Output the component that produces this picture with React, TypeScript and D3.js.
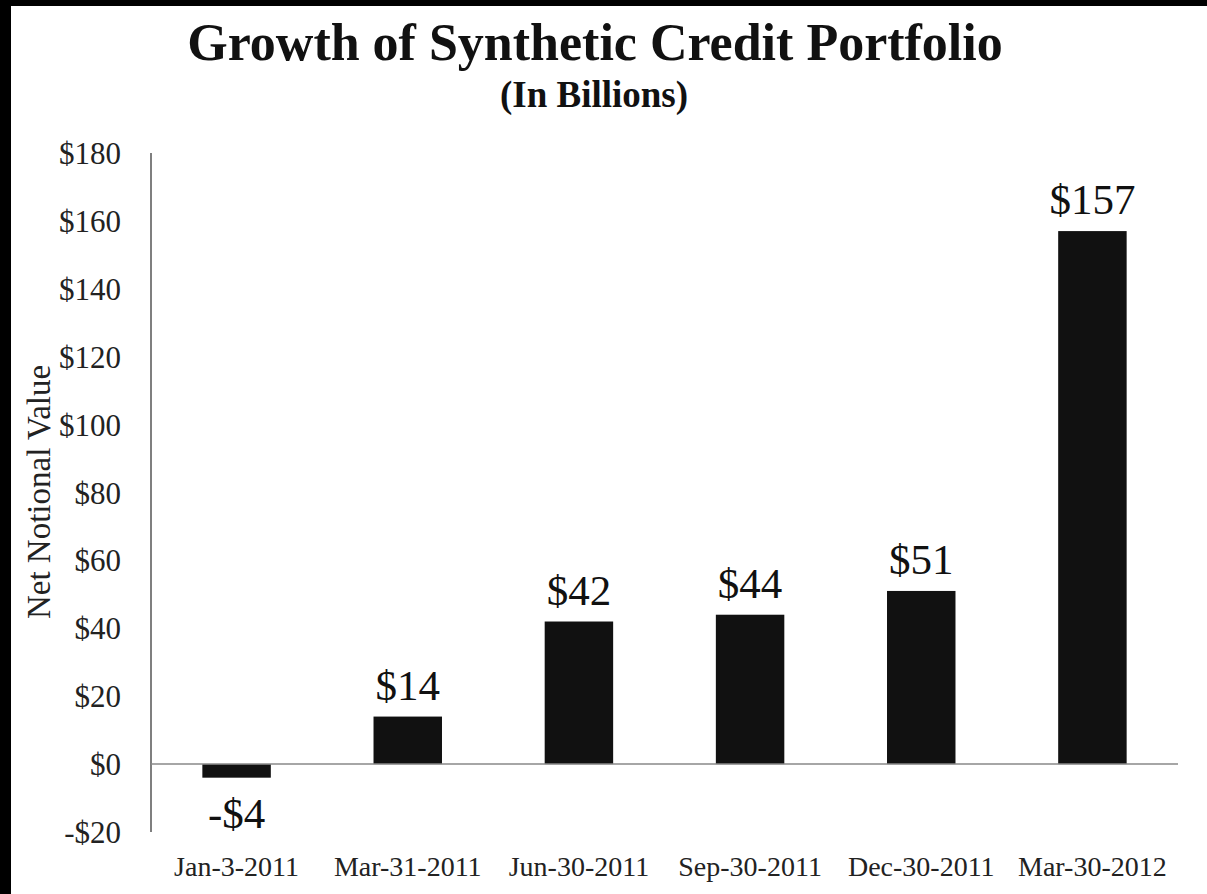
import React from "react";
import * as d3 from "d3";

const categories = ["Jan-3-2011", "Mar-31-2011", "Jun-30-2011", "Sep-30-2011", "Dec-30-2011", "Mar-30-2012"];
const values = [-4, 14, 42, 44, 51, 157];
const yTicks = [-20, 0, 20, 40, 60, 80, 100, 120, 140, 160, 180];
const title = "Growth of Synthetic Credit Portfolio";
const subtitle = "(In Billions)";
const yLabel = "Net Notional Value";

const W = 1207;
const H = 894;
const FONT = "'Liberation Serif', 'Times New Roman', serif";

export default function App() {
  const left = 151;
  const right = 1178;
  const top = 153;
  const bottom = 832;

  const x = d3.scaleBand<string>().domain(categories).range([left, right]).paddingInner(0.6).paddingOuter(0.3);
  const y = d3.scaleLinear().domain([-20, 180]).range([bottom, top]);
  const fmt = (v: number) => (v < 0 ? "-$" + Math.abs(v) : "$" + v);

  return (
    <svg width={W} height={H} style={{ position: "absolute", left: 0, top: 0, background: "#fff" }}>
      <rect x={0} y={0} width={W} height={H} fill="#fff" />
      <rect x={0} y={0} width={W} height={6} fill="#000" />
      <rect x={0} y={0} width={11} height={H} fill="#000" />
      <text x={595} y={60} textAnchor="middle" fontFamily={FONT} fontWeight="bold" fontSize={52} fill="#111">
        {title}
      </text>
      <text x={594} y={107} textAnchor="middle" fontFamily={FONT} fontWeight="bold" fontSize={37} fill="#111">
        {subtitle}
      </text>
      <text
        transform={`translate(50, 492) rotate(-90)`}
        textAnchor="middle"
        fontFamily={FONT}
        fontSize={33}
        fill="#222"
      >
        {yLabel}
      </text>
      {yTicks.map((t) => (
        <text key={t} x={121} y={y(t) + 11} textAnchor="end" fontFamily={FONT} fontSize={31} fill="#222">
          {fmt(t)}
        </text>
      ))}
      {categories.map((c, i) => {
        const v = values[i];
        const bx = x(c)!;
        const bw = x.bandwidth();
        const y0 = y(Math.max(0, v));
        const y1 = y(Math.min(0, v));
        const cx = bx + bw / 2;
        return (
          <g key={c}>
            <rect x={bx} y={y0} width={bw} height={y1 - y0} fill="#111" />
            <text
              x={cx}
              y={v >= 0 ? y0 - 17 : y1 + 50}
              textAnchor="middle"
              fontFamily={FONT}
              fontSize={43}
              fill="#111"
            >
              {fmt(v)}
            </text>
            <text x={cx} y={876} textAnchor="middle" fontFamily={FONT} fontSize={28} fill="#222">
              {c}
            </text>
          </g>
        );
      })}
      <line x1={left} x2={left} y1={top} y2={bottom} stroke="#555" strokeWidth={1.5} />
      <line x1={left} x2={right} y1={y(0)} y2={y(0)} stroke="#888" strokeWidth={1.5} />
    </svg>
  );
}
